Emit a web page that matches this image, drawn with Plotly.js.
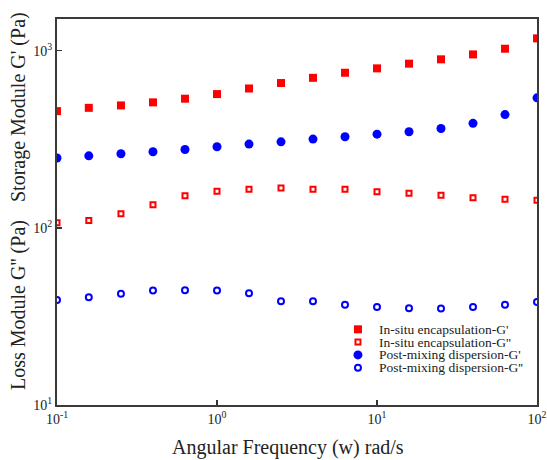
<!DOCTYPE html>
<html>
<head>
<meta charset="utf-8">
<script src="https://cdn.plot.ly/plotly-3.0.1.min.js"></script>
<style>html,body{margin:0;padding:0;background:#fff;}#chart{width:547px;height:460px;}</style>
</head>
<body>
<div id="chart"></div>
<script>
// Angular frequency (rad/s)
var freq = [0.1, 0.158, 0.251, 0.398, 0.631, 1, 1.585, 2.512, 3.981, 6.31, 10, 15.85, 25.12, 39.81, 63.1, 100];
// In-situ encapsulation
var insituGp  = [456, 476, 491, 511, 536, 569, 612, 657, 703, 751, 795, 845, 894, 953, 1026, 1174];
var insituGpp = [107, 110, 120, 135, 152, 161, 165, 168, 165, 165, 160, 157, 153, 148, 145, 143];
// Post-mixing dispersion
var postGp    = [248, 255, 262, 269, 277, 287, 297, 306, 317, 327, 338, 349, 364, 389, 436, 542];
var postGpp   = [39.1, 40.6, 42.4, 44.3, 44.4, 44.3, 42.8, 38.5, 38.5, 36.8, 35.7, 35.2, 35.1, 35.7, 36.8, 38.2];

var seriesNames = ["In-situ encapsulation-G'", "In-situ encapsulation-G''", "Post-mixing dispersion-G'", "Post-mixing dispersion-G''"];
// tick labels
var xTickVals = [0.1, 1, 10, 100];
var xTickText = ['10<sup>-1</sup>', '10<sup>0</sup>', '10<sup>1</sup>', '10<sup>2</sup>'];
var yTickVals = [10, 100, 1000];
var yTickText = ['10<sup>1</sup>', '10<sup>2</sup>', '10<sup>3</sup>'];

var RED = '#ff0000', BLUE = '#0000ff';
var FONT = 'Liberation Serif';
var TXT = '#222222';

var traces = [
  {x: freq, y: insituGp, name: seriesNames[0], mode: 'markers', type: 'scatter',
   marker: {symbol: 'square', size: 8, color: RED}},
  {x: freq, y: insituGpp, name: seriesNames[1], mode: 'markers', type: 'scatter',
   marker: {symbol: 'square-open', size: 5, color: RED, line: {width: 2, color: RED}}},
  {x: freq, y: postGp, name: seriesNames[2], mode: 'markers', type: 'scatter',
   marker: {symbol: 'circle', size: 9, color: BLUE}},
  {x: freq, y: postGpp, name: seriesNames[3], mode: 'markers', type: 'scatter',
   marker: {symbol: 'circle-open', size: 6, color: BLUE, line: {width: 2, color: BLUE}}}
];

// custom compact legend (layout decoration)
var legY = [0.1961, 0.1630, 0.1298, 0.0966];
var legSymX = 0.627, legTextX = 0.669;
var shapes = [
  {type: 'rect', xref: 'paper', yref: 'paper', xsizemode: 'pixel', ysizemode: 'pixel',
   xanchor: legSymX, yanchor: legY[0], x0: -4, x1: 4, y0: -4, y1: 4, fillcolor: RED, line: {width: 0}},
  {type: 'rect', xref: 'paper', yref: 'paper', xsizemode: 'pixel', ysizemode: 'pixel',
   xanchor: legSymX, yanchor: legY[1], x0: -2.5, x1: 2.5, y0: -2.5, y1: 2.5, fillcolor: 'rgba(0,0,0,0)', line: {width: 2, color: RED}},
  {type: 'circle', xref: 'paper', yref: 'paper', xsizemode: 'pixel', ysizemode: 'pixel',
   xanchor: legSymX, yanchor: legY[2], x0: -4.5, x1: 4.5, y0: -4.5, y1: 4.5, fillcolor: BLUE, line: {width: 0}},
  {type: 'circle', xref: 'paper', yref: 'paper', xsizemode: 'pixel', ysizemode: 'pixel',
   xanchor: legSymX, yanchor: legY[3], x0: -3, x1: 3, y0: -3, y1: 3, fillcolor: 'rgba(0,0,0,0)', line: {width: 2, color: BLUE}}
];
var annotations = seriesNames.map(function (n, i) {
  return {text: n, xref: 'paper', yref: 'paper', x: legTextX, y: legY[i], xanchor: 'left', yanchor: 'middle',
          borderpad: 0, showarrow: false, font: {family: FONT, size: 13.5, color: TXT}};
});
annotations.push({text: "Storage Module G' (Pa)", xref: 'paper', yref: 'paper', x: 0, y: 0.772, xshift: -39,
  xanchor: 'center', yanchor: 'middle', textangle: -90, showarrow: false, font: {family: FONT, size: 20, color: TXT}});
annotations.push({text: "Loss Module G'' (Pa)", xref: 'paper', yref: 'paper', x: 0, y: 0.259, xshift: -39,
  xanchor: 'center', yanchor: 'middle', textangle: -90, showarrow: false, font: {family: FONT, size: 20, color: TXT}});
annotations.push({text: 'Angular Frequency (w) rad/s', xref: 'paper', yref: 'paper', x: 0.5, xshift: -9, y: -0.1425,
  xanchor: 'center', yanchor: 'bottom', borderpad: 0, showarrow: false, font: {family: FONT, size: 20, color: TXT}});

var axisCommon = {
  type: 'log', tickmode: 'array', ticks: 'inside', ticklen: 5, tickwidth: 1.5, tickcolor: '#333',
  showline: true, linecolor: '#3a3a3a', linewidth: 2, mirror: true,
  showgrid: false, zeroline: false,
  tickfont: {family: FONT, size: 14, color: TXT}
};

var layout = {
  width: 547, height: 460,
  margin: {l: 57, r: 10, t: 19, b: 55},
  paper_bgcolor: '#fff', plot_bgcolor: '#fff',
  showlegend: false,
  xaxis: Object.assign({}, axisCommon, {range: [-1, 2], tickvals: xTickVals, ticktext: xTickText}),
  yaxis: Object.assign({}, axisCommon, {range: [1, 3.179], tickvals: yTickVals, ticktext: yTickText}),
  shapes: shapes,
  annotations: annotations
};

Plotly.newPlot('chart', traces, layout, {staticPlot: true, displayModeBar: false});
</script>
</body>
</html>
